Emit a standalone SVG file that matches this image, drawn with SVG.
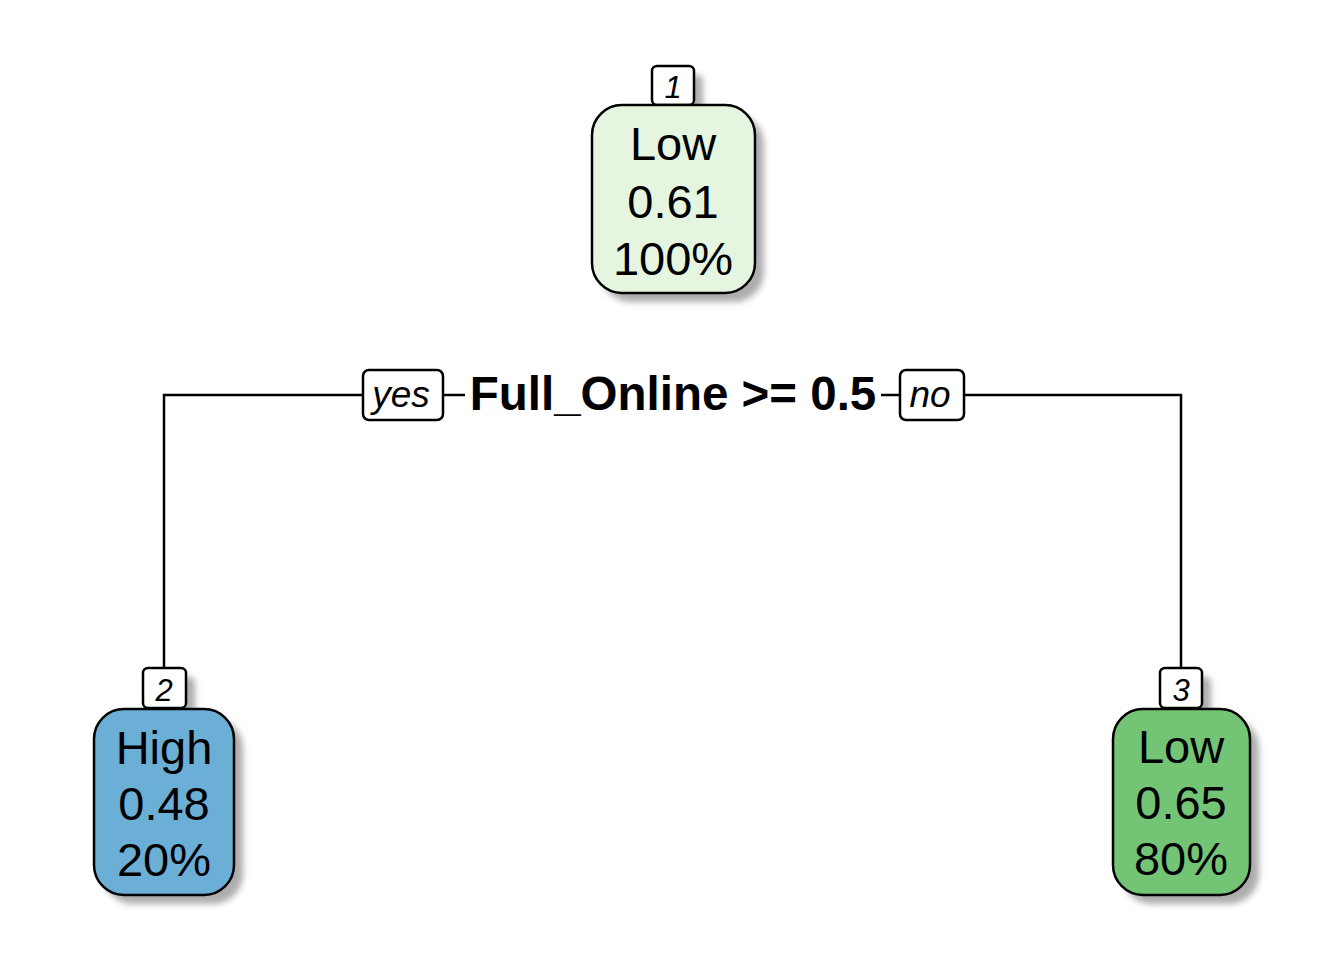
<svg xmlns="http://www.w3.org/2000/svg" width="1344" height="960" viewBox="0 0 1344 960">
<defs>
<filter id="blur" x="-20%" y="-20%" width="140%" height="140%"><feGaussianBlur stdDeviation="3"/></filter>
</defs>
<style>
.shadow{fill:#adadad;filter:url(#blur)}
.box{stroke:#000;stroke-width:2.5}
.lab{fill:#fff;stroke:#000;stroke-width:2.5}
.t{font-family:"Liberation Sans",Arial,sans-serif;font-size:47px;text-anchor:middle;fill:#000}
.nn{font-family:"Liberation Sans",Arial,sans-serif;font-size:31px;font-style:italic;text-anchor:middle;fill:#000}
.yn{font-family:"Liberation Sans",Arial,sans-serif;font-size:37px;font-style:italic;text-anchor:middle;fill:#000}
.split{font-family:"Liberation Sans",Arial,sans-serif;font-size:47.5px;font-weight:bold;text-anchor:middle;fill:#000}
.edge{fill:none;stroke:#000;stroke-width:2.5}
</style>
<rect width="1344" height="960" fill="#fff"/>
<g id="connectors">
<polyline class="edge" points="363,395 164,395 164,668"/>
<line class="edge" x1="443" y1="395" x2="465" y2="395"/>
<line class="edge" x1="881" y1="395" x2="900" y2="395"/>
<polyline class="edge" points="964,395 1181,395 1181,668"/>
</g>
<g id="split">
<rect class="lab" x="363" y="370" width="80" height="50" rx="6"/>
<text class="yn" x="401" y="407">yes</text>
<text class="split" x="673" y="410">Full_Online &gt;= 0.5</text>
<rect class="lab" x="900" y="370" width="64" height="50" rx="6"/>
<text class="yn" x="930" y="407">no</text>
</g>
<g id="node1">
<rect class="shadow" x="661" y="75" width="42" height="39" rx="5"/>
<rect class="shadow" x="601" y="114" width="163" height="188" rx="30"/>
<rect class="lab" x="652" y="66" width="42" height="39" rx="5"/>
<rect class="box" x="592" y="105" width="163" height="188" rx="30" fill="#e5f5e0"/>
<text class="nn" x="673" y="98">1</text>
<text class="t" x="673" y="160">Low</text>
<text class="t" x="673" y="218">0.61</text>
<text class="t" x="673" y="275">100%</text>
</g>
<g id="node2">
<rect class="shadow" x="152" y="677" width="43" height="40" rx="5"/>
<rect class="shadow" x="103" y="718" width="140" height="186" rx="30"/>
<rect class="lab" x="143" y="668" width="43" height="40" rx="5"/>
<rect class="box" x="94" y="709" width="140" height="186" rx="30" fill="#6baed6"/>
<text class="nn" x="164" y="701">2</text>
<text class="t" x="164" y="764">High</text>
<text class="t" x="164" y="820">0.48</text>
<text class="t" x="164" y="876">20%</text>
</g>
<g id="node3">
<rect class="shadow" x="1169" y="677" width="42" height="40" rx="5"/>
<rect class="shadow" x="1122" y="718" width="137" height="186" rx="30"/>
<rect class="lab" x="1160" y="668" width="42" height="40" rx="5"/>
<rect class="box" x="1113" y="709" width="137" height="186" rx="30" fill="#74c476"/>
<text class="nn" x="1181" y="701">3</text>
<text class="t" x="1181" y="763">Low</text>
<text class="t" x="1181" y="819">0.65</text>
<text class="t" x="1181" y="875">80%</text>
</g>
</svg>
